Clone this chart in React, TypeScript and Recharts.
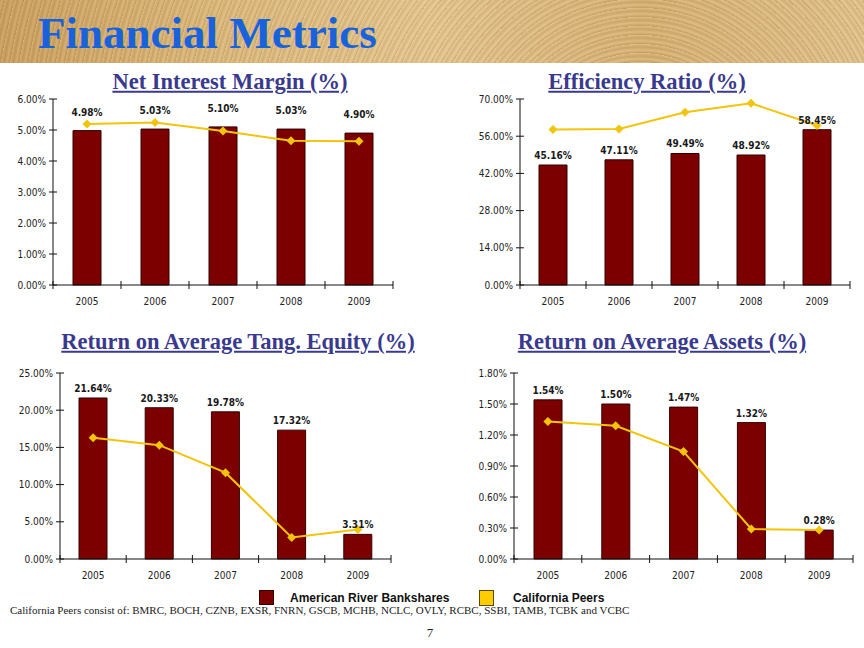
import React from "react";
import { Bar, ComposedChart, LabelList, Line, XAxis, YAxis } from "recharts";

const years = ["2005", "2006", "2007", "2008", "2009"];

const nimBank = [4.98, 5.03, 5.1, 5.03, 4.9];
const nimPeers = [5.19, 5.24, 4.97, 4.65, 4.64];
const nimTicks = [0, 1, 2, 3, 4, 5, 6];

const effBank = [45.16, 47.11, 49.49, 48.92, 58.45];
const effPeers = [58.5, 58.7, 65.0, 68.4, 60.0];
const effTicks = [0, 14, 28, 42, 56, 70];

const roteBank = [21.64, 20.33, 19.78, 17.32, 3.31];
const rotePeers = [16.3, 15.3, 11.6, 2.9, 3.96];
const roteTicks = [0, 5, 10, 15, 20, 25];

const roaaBank = [1.54, 1.5, 1.47, 1.32, 0.28];
const roaaPeers = [1.33, 1.29, 1.04, 0.29, 0.28];
const roaaTicks = [0, 0.3, 0.6, 0.9, 1.2, 1.5, 1.8];

const BAR = "#7d0000";
const PEER = "#f2c40c";
const AXIS_FONT = "'DejaVu Sans Condensed', 'DejaVu Sans', sans-serif";

const pct = (v: number) => `${v.toFixed(2)}%`;

type PanelProps = {
  title: string;
  bank: number[];
  peers: number[];
  ticks: number[];
  left: number;
  top: number;
  width: number;
  marginRight: number;
  labelOffset: number;
  titleX: number;
  titleY: number;
};

const Diamond = (p: any) => {
  if (p.cx == null || p.cy == null) return <g key={p.index} />;
  const r = 4.5;
  return (
    <path
      key={p.index}
      d={`M${p.cx},${p.cy - r}L${p.cx + r},${p.cy}L${p.cx},${p.cy + r}L${p.cx - r},${p.cy}Z`}
      fill={PEER}
    />
  );
};

const Panel = ({
  title,
  bank,
  peers,
  ticks,
  left,
  top,
  width,
  marginRight,
  labelOffset,
  titleX,
  titleY,
}: PanelProps) => {
  const data = years.map((year, i) => ({ year, bank: bank[i], peers: peers[i] }));
  const yAxisWidth = 60;
  const plotWidth = width - yAxisWidth - marginRight;
  const band = plotWidth / years.length;

  const YearTick = (p: any) => (
    <g>
      <line x1={p.x - band / 2} x2={p.x - band / 2} y1={p.y - 4} y2={p.y + 4} stroke="#111" />
      {p.index === years.length - 1 && (
        <line x1={p.x + band / 2} x2={p.x + band / 2} y1={p.y - 4} y2={p.y + 4} stroke="#111" />
      )}
      <text x={p.x} y={p.y + 16} textAnchor="middle" dominantBaseline="central" fontSize={10} fill="#222" fontFamily={AXIS_FONT}>
        {p.payload.value}
      </text>
    </g>
  );

  const PctTick = (p: any) => (
    <g>
      <line x1={p.x - 4} x2={p.x + 4} y1={p.y} y2={p.y} stroke="#111" />
      <text x={p.x - 7} y={p.y} textAnchor="end" dominantBaseline="central" fontSize={10} fill="#222" fontFamily={AXIS_FONT}>
        {pct(p.payload.value)}
      </text>
    </g>
  );

  return (
    <>
      <div
        style={{
          position: "absolute",
          left: titleX,
          top: titleY,
          transform: "translate(-50%, -50%)",
          fontFamily: "'Liberation Serif', serif",
          fontWeight: "bold",
          fontSize: 22.5,
          color: "#393a8e",
          textDecoration: "underline",
          whiteSpace: "nowrap",
          lineHeight: 1,
        }}
      >
        {title}
      </div>
      <div style={{ position: "absolute", left, top }}>
        <ComposedChart
          width={width}
          height={230}
          data={data}
          margin={{ top: 9, right: marginRight, bottom: 10, left: 0 }}
          barSize={28}
        >
          <XAxis
            dataKey="year"
            tick={YearTick}
            tickLine={false}
            tickSize={0}
            tickMargin={0}
            height={25}
            axisLine={{ stroke: "#111" }}
          />
          <YAxis
            domain={[ticks[0], ticks[ticks.length - 1]]}
            ticks={ticks}
            tick={PctTick}
            tickLine={false}
            tickSize={0}
            tickMargin={0}
            width={yAxisWidth}
            axisLine={{ stroke: "#111" }}
            interval={0}
          />
          <Bar dataKey="bank" fill={BAR} stroke="#300000" strokeWidth={1} isAnimationActive={false}>
            <LabelList
              dataKey="bank"
              position="top"
              offset={labelOffset}
              formatter={(v: any) => pct(Number(v))}
              style={{ fontSize: 10, fontWeight: "bold", fill: "#1a1a1a", fontFamily: AXIS_FONT }}
            />
          </Bar>
          <Line
            type="linear"
            dataKey="peers"
            stroke={PEER}
            strokeWidth={2}
            dot={Diamond}
            activeDot={false}
            isAnimationActive={false}
          />
        </ComposedChart>
      </div>
    </>
  );
};

export default function App() {
  return (
    <div
      style={{
        position: "absolute",
        left: 0,
        top: 0,
        width: 864,
        height: 648,
        background: "#fff",
        overflow: "hidden",
      }}
    >
      <div
        style={{
          position: "absolute",
          left: 0,
          top: 0,
          width: 864,
          height: 63,
          background:
            "repeating-radial-gradient(circle at 640px 170px, rgba(150,105,45,0.28) 0px, rgba(255,240,200,0.15) 3px, rgba(150,105,45,0.18) 6px, rgba(255,235,190,0.2) 9px), linear-gradient(90deg, #c99d5c 0%, #dcb97c 25%, #e6c893 50%, #d6b073 75%, #e2c48e 100%)",
        }}
      />
      <div
        style={{
          position: "absolute",
          left: 38,
          top: 11,
          fontFamily: "'Liberation Serif', serif",
          fontWeight: "bold",
          fontSize: 45,
          lineHeight: 1,
          color: "#1862dc",
          whiteSpace: "nowrap",
        }}
      >
        Financial Metrics
      </div>

      <Panel title="Net Interest Margin (%)" bank={nimBank} peers={nimPeers} ticks={nimTicks}
        left={-7} top={90} width={417} marginRight={17} labelOffset={15} titleX={230} titleY={82} />
      <Panel title="Efficiency Ratio (%)" bank={effBank} peers={effPeers} ticks={effTicks}
        left={460} top={90} width={400} marginRight={10} labelOffset={6} titleX={647} titleY={82} />
      <Panel title="Return on Average Tang. Equity (%)" bank={roteBank} peers={rotePeers} ticks={roteTicks}
        left={0} top={364} width={406} marginRight={15} labelOffset={6} titleX={238} titleY={342} />
      <Panel title="Return on Average Assets (%)" bank={roaaBank} peers={roaaPeers} ticks={roaaTicks}
        left={454} top={364} width={409} marginRight={10} labelOffset={6} titleX={662} titleY={342} />

      <div style={{ position: "absolute", left: 259, top: 590, width: 15, height: 15, background: BAR, border: "1px solid #300000", boxSizing: "border-box" }} />
      <div style={{ position: "absolute", left: 290, top: 598, transform: "translateY(-50%)", fontFamily: "'Liberation Sans', sans-serif", fontWeight: "bold", fontSize: 12, color: "#111", whiteSpace: "nowrap" }}>
        American River Bankshares
      </div>
      <div style={{ position: "absolute", left: 479, top: 590, width: 15, height: 16, background: "#ffcc00", border: "1px solid #5a4a00", boxSizing: "border-box" }} />
      <div style={{ position: "absolute", left: 513, top: 598, transform: "translateY(-50%)", fontFamily: "'Liberation Sans', sans-serif", fontWeight: "bold", fontSize: 12, color: "#111", whiteSpace: "nowrap" }}>
        California Peers
      </div>

      <div style={{ position: "absolute", left: 10, top: 610, transform: "translateY(-50%)", fontFamily: "'Liberation Serif', serif", fontSize: 11, color: "#222", whiteSpace: "nowrap" }}>
        California Peers  consist of: BMRC, BOCH, CZNB, EXSR, FNRN, GSCB, MCHB, NCLC, OVLY, RCBC, SSBI, TAMB, TCBK and VCBC
      </div>
      <div style={{ position: "absolute", left: 430, top: 633, transform: "translate(-50%, -50%)", fontFamily: "'Liberation Serif', serif", fontSize: 13, color: "#222" }}>
        7
      </div>
    </div>
  );
}
